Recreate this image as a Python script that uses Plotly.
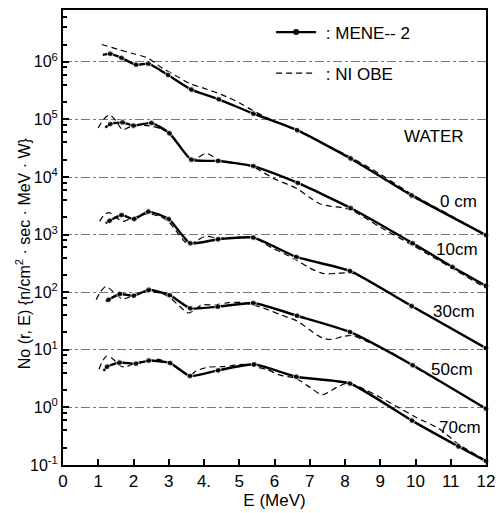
import math
import plotly.graph_objects as go

# ---------------- data ----------------
# MENE-2 (solid line with dots)
mene_E_0 = [1.13, 1.34, 1.66, 2.07, 2.42, 2.98, 3.64, 4.42, 5.40, 6.64, 8.16, 9.89, 12.0]
mene_N_0 = [1.32e6, 1.38e6, 1.17e6, 8.9e5, 9.3e5, 5.9e5, 3.3e5, 2.24e5, 1.26e5, 6.5e4, 2.1e4, 4.8e3, 9.8e2]

mene_E_10 = [1.20, 1.34, 1.69, 2.00, 2.51, 3.02, 3.64, 4.40, 5.40, 6.66, 8.16, 9.92, 11.05, 12.0]
mene_N_10 = [7.2e4, 8.3e4, 8.9e4, 7.8e4, 8.7e4, 5.75e4, 2.0e4, 1.9e4, 1.55e4, 7.9e3, 2.9e3, 7.1e2, 2.75e2, 1.29e2]

mene_E_30 = [1.21, 1.32, 1.66, 2.02, 2.42, 3.00, 3.61, 4.40, 5.40, 6.62, 8.14, 9.89, 12.0]
mene_N_30 = [1.58e3, 1.74e3, 2.19e3, 1.86e3, 2.51e3, 1.86e3, 7.1e2, 8.3e2, 8.9e2, 4.1e2, 2.34e2, 57.5, 10.7]

mene_E_50 = [1.21, 1.29, 1.61, 2.01, 2.43, 3.03, 3.61, 4.39, 5.40, 6.64, 8.14, 9.92, 12.0]
mene_N_50 = [69, 74, 93, 87, 110, 89, 52.5, 56, 65, 39, 20.4, 5.4, 0.95]

mene_E_70 = [1.15, 1.25, 1.60, 2.07, 2.43, 3.04, 3.60, 4.40, 5.42, 6.62, 8.14, 9.90, 11.22, 12.0]
mene_N_70 = [4.3, 5.1, 6.0, 5.75, 6.5, 5.9, 3.5, 4.4, 5.6, 3.4, 2.6, 0.59, 0.21, 0.117]

# NIOBE (dashed line)
niobe_E_0 = [1.1, 1.6, 2.0, 2.4, 2.8, 3.2, 3.6, 4.0, 4.5, 5.0, 5.4, 6.0, 6.6, 7.0, 7.5, 8.2, 9.0, 9.9, 11.0, 12.0]
niobe_N_0 = [2.0e6, 1.62e6, 1.38e6, 1.17e6, 7.9e5, 5.75e5, 4.2e5, 3.47e5, 2.7e5, 1.95e5, 1.41e5, 9.3e4, 6.6e4,
             5.1e4, 3.55e4, 2.14e4, 1.12e4, 5.0e3, 2.14e3, 9.5e2]

niobe_E_10 = [1.0, 1.15, 1.32, 1.5, 1.69, 1.85, 2.02, 2.3, 2.53, 2.8, 3.0, 3.25, 3.47, 3.61, 3.8, 4.07, 4.42,
              4.9, 5.4, 6.0, 6.64, 7.0, 7.3, 7.6, 7.9, 8.2, 9.0, 9.92, 11.0, 12.0]
niobe_N_10 = [7.1e4, 1.0e5, 1.2e5, 9.5e4, 6.6e4, 7.2e4, 7.9e4, 7.9e4, 7.6e4, 6.8e4, 5.75e4, 4.0e4, 2.5e4, 2.0e4,
              2.14e4, 2.57e4, 2.0e4, 1.74e4, 1.48e4, 9.3e3, 6.3e3, 4.4e3, 3.4e3, 3.1e3, 2.95e3, 2.63e3, 1.35e3,
              6.5e2, 2.7e2, 1.17e2]

niobe_E_30 = [1.04, 1.18, 1.32, 1.5, 1.69, 1.85, 2.02, 2.42, 2.8, 3.0, 3.25, 3.45, 3.58, 3.8, 4.03, 4.4, 4.9,
              5.4, 5.9, 6.3, 6.64, 7.0, 7.4, 7.8, 8.2, 8.5, 9.2, 9.9, 11.0, 12.0]
niobe_N_30 = [1.7e3, 2.24e3, 2.4e3, 2.0e3, 1.7e3, 1.82e3, 2.0e3, 2.3e3, 2.0e3, 1.66e3, 1.07e3, 7.6e2, 6.8e2,
              7.9e2, 9.3e2, 8.7e2, 8.9e2, 8.9e2, 6.0e2, 4.6e2, 3.55e2, 2.63e2, 2.1e2, 2.14e2, 2.14e2, 1.78e2,
              1.0e2, 56, 24, 10.5]

niobe_E_50 = [0.94, 1.08, 1.22, 1.4, 1.69, 1.85, 2.02, 2.42, 2.8, 3.05, 3.3, 3.56, 3.75, 3.93, 4.3, 4.7, 5.1,
              5.4, 5.8, 6.2, 6.64, 7.1, 7.35, 7.58, 7.95, 8.2, 8.56, 9.3, 9.92, 11.0, 12.0]
niobe_N_50 = [74, 105, 126, 105, 76, 81, 89, 102, 95, 79, 57.5, 43.6, 50, 60, 60, 66, 66, 60, 50, 40, 31.6,
              20, 16.2, 15.1, 17, 17.8, 14.5, 9.1, 5.25, 2.19, 0.93]

niobe_E_70 = [1.02, 1.12, 1.24, 1.4, 1.58, 1.74, 1.9, 2.07, 2.43, 2.7, 3.04, 3.3, 3.6, 3.75, 4.12, 4.5, 4.87,
              5.2, 5.45, 5.8, 6.18, 6.6, 7.02, 7.35, 7.77, 8.09, 8.6, 9.45, 10.0, 10.66, 11.22, 12.0]
niobe_N_70 = [4.6, 6.3, 7.8, 7.1, 5.5, 5.0, 5.4, 5.9, 6.5, 6.8, 5.75, 4.5, 3.5, 4.2, 5.0, 5.1, 5.4, 5.6, 5.1,
              4.5, 3.6, 3.2, 2.2, 1.66, 2.24, 2.63, 2.0, 1.05, 0.68, 0.43, 0.23, 0.12]

depth_labels = ["0 cm", "10cm", "30cm", "50cm", "70cm"]
depth_label_E = [11.22, 11.18, 11.08, 11.04, 11.27]
depth_label_N = [3.7e3, 5.6e2, 47, 4.5, 0.45]

y_tick_vals = [0.1, 1, 10, 100, 1e3, 1e4, 1e5, 1e6]
y_tick_text = ["10<sup>-1</sup>", "10<sup>0</sup>", "10<sup>1</sup>", "10<sup>2</sup>",
               "10<sup>3</sup>", "10<sup>4</sup>", "10<sup>5</sup>", "10<sup>6</sup>"]
x_tick_vals = list(range(0, 13))
x_tick_text = ["0", "1", "2", "3", "4.", "5", "6", "7", "8", "9", "10", "11", "12"]

# ---------------- figure ----------------
FONT = "Liberation Sans, Arial, sans-serif"
fig = go.Figure()

curves = [
    (mene_E_0, mene_N_0, niobe_E_0, niobe_N_0),
    (mene_E_10, mene_N_10, niobe_E_10, niobe_N_10),
    (mene_E_30, mene_N_30, niobe_E_30, niobe_N_30),
    (mene_E_50, mene_N_50, niobe_E_50, niobe_N_50),
    (mene_E_70, mene_N_70, niobe_E_70, niobe_N_70),
]

for mx, my, nx, ny in curves:
    fig.add_trace(go.Scatter(
        x=nx, y=ny, mode="lines",
        line=dict(color="black", width=1.2, dash="6px,4px", shape="spline", smoothing=0.8),
        showlegend=False, hoverinfo="skip"))
    fig.add_trace(go.Scatter(
        x=mx, y=my, mode="lines+markers",
        line=dict(color="black", width=2.4, shape="spline", smoothing=0.5),
        marker=dict(size=[0] + [6] * (len(mx) - 1), color="black"),
        cliponaxis=False, showlegend=False, hoverinfo="skip"))

# legend entries
fig.add_trace(go.Scatter(
    x=[None], y=[None], mode="lines+markers", name="\u00a0: MENE-- 2", legendgroup="a",
    line=dict(color="black", width=2.4), marker=dict(size=6, color="black")))
fig.add_trace(go.Scatter(
    x=[None], y=[None], mode="lines", name="\u00a0: NI OBE", legendgroup="b",
    line=dict(color="black", width=1.2, dash="6px,4px")))

annotations = [dict(x=10.52, y=4.71, xref="x", yref="y", text="WATER", showarrow=False,
                    font=dict(size=17, family=FONT, color="black"))]
for lab, ex, nv in zip(depth_labels, depth_label_E, depth_label_N):
    annotations.append(dict(x=ex, y=math.log10(nv), xref="x", yref="y", text=lab, showarrow=False,
                            font=dict(size=17, family=FONT, color="black")))
# y-axis title (rotated), placed like the reference
annotations.append(dict(x=-0.094, y=0.466, xref="paper", yref="paper", xanchor="center", yanchor="middle",
                        text="No (r, E) {n/cm<sup>2</sup> · sec · MeV · W}", textangle=-90, showarrow=False,
                        font=dict(size=16, family=FONT, color="black")))

minor_vals = [m * 10 ** k for k in range(-1, 7) for m in (2, 4, 6, 8)]

fig.update_layout(
    width=503, height=513,
    margin=dict(l=63, r=12, t=8, b=41),
    paper_bgcolor="white", plot_bgcolor="white",
    font=dict(family=FONT, size=17, color="black"),
    showlegend=True,
    legend=dict(x=0.492, y=0.99, xanchor="left", yanchor="top", bgcolor="rgba(0,0,0,0)",
                font=dict(size=17, family=FONT), tracegroupgap=16, itemwidth=40),
    annotations=annotations,
    xaxis=dict(range=[0, 12], tickvals=x_tick_vals, ticktext=x_tick_text, ticks="inside", ticklen=6,
               tickwidth=1.5, tickcolor="black", showline=True, linewidth=2, linecolor="black",
               mirror=True, showgrid=False, zeroline=False,
               tickfont=dict(size=17, family=FONT),
               title=dict(text="E (MeV)", font=dict(size=17, family=FONT), standoff=2)),
    yaxis=dict(type="log", range=[-1, 6.9], tickvals=y_tick_vals, ticktext=y_tick_text,
               ticks="inside", ticklen=6, tickwidth=1.5, tickcolor="black",
               showline=True, linewidth=2, linecolor="black", mirror=True,
               showgrid=True, gridcolor="#777777", gridwidth=1, griddash="dashdot",
               minor=dict(tickvals=minor_vals, ticks="inside", ticklen=4, tickcolor="black", showgrid=False),
               zeroline=False, tickfont=dict(size=16, family=FONT)),
)

fig.write_html("out.html")
